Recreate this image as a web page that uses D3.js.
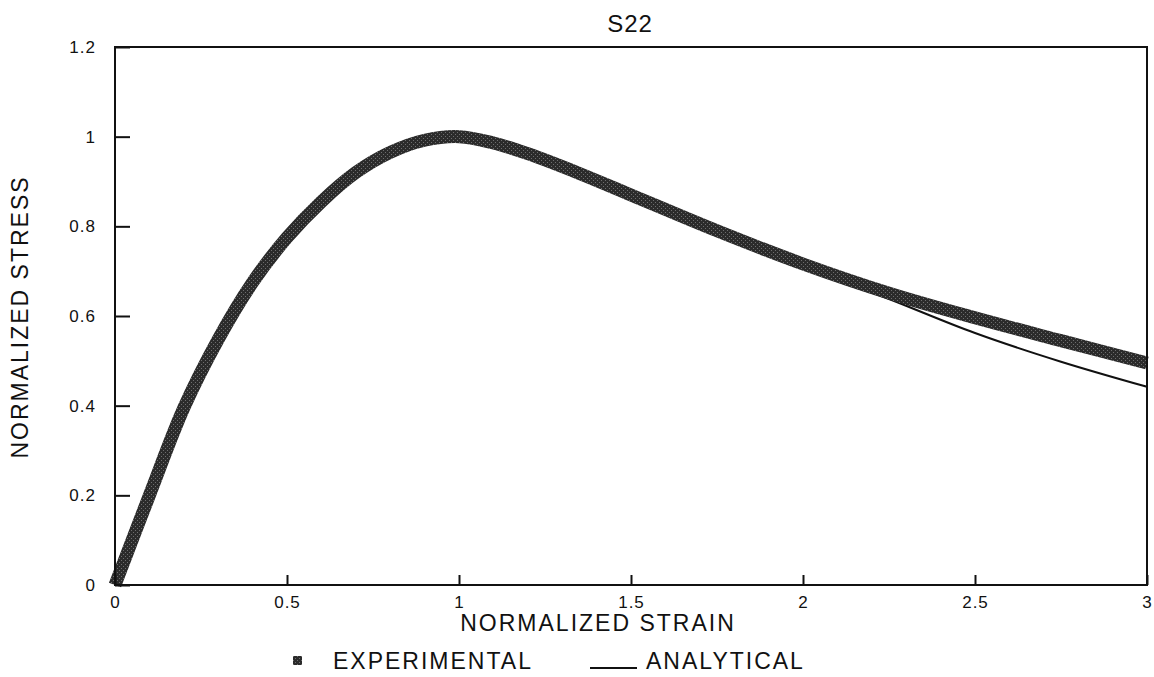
<!DOCTYPE html>
<html>
<head>
<meta charset="utf-8">
<script src="https://cdn.jsdelivr.net/npm/d3@7"></script>
<style>
  body { margin: 0; background: #fff; }
  text { font-family: "Liberation Sans", Arial, sans-serif; fill: #111; }
</style>
</head>
<body>
<div id="chart"></div>
<script>
// values
var strain_exp = [0, 0.1, 0.2, 0.3, 0.4, 0.5, 0.6, 0.7, 0.8, 0.9, 1.0, 1.1, 1.2, 1.35, 1.5, 1.75, 2.0, 2.25, 2.5, 2.75, 3.0];
var stress_exp = [0, 0.2, 0.395, 0.548, 0.675, 0.775, 0.855, 0.92, 0.965, 0.992, 1.0, 0.986, 0.962, 0.918, 0.87, 0.79, 0.716, 0.651, 0.596, 0.545, 0.495];

var strain_ana = [0, 0.1, 0.2, 0.3, 0.4, 0.5, 0.6, 0.7, 0.8, 0.9, 1.0, 1.1, 1.2, 1.35, 1.5, 1.75, 2.0, 2.25, 2.5, 2.75, 3.0];
var stress_ana = [0, 0.2, 0.395, 0.548, 0.675, 0.775, 0.855, 0.92, 0.965, 0.992, 1.0, 0.986, 0.962, 0.916, 0.867, 0.786, 0.711, 0.638, 0.562, 0.498, 0.442];

var x_ticks = [0, 0.5, 1, 1.5, 2, 2.5, 3];
var y_ticks = [0, 0.2, 0.4, 0.6, 0.8, 1, 1.2];

var title = "S22";
var x_label = "NORMALIZED STRAIN";
var y_label = "NORMALIZED STRESS";
var legend_labels = ["EXPERIMENTAL", "ANALYTICAL"];

var width = 1154;
var height = 677;
var plot_left = 115, plot_right = 1147, plot_top = 47, plot_bottom = 585;

var svgContainer = d3.select("#chart")
                     .append("svg")
                     .attr("width", width)
                     .attr("height", height);

// speckled fill for the thick experimental band
var defs = svgContainer.append("defs");
var pat = defs.append("pattern")
              .attr("id", "speckle")
              .attr("width", 4)
              .attr("height", 4)
              .attr("patternUnits", "userSpaceOnUse");
pat.append("rect").attr("width", 4).attr("height", 4).attr("fill", "#2b2b2b");
pat.append("rect").attr("x", 1).attr("y", 0).attr("width", 1).attr("height", 1).attr("fill", "#6e6e6e");
pat.append("rect").attr("x", 3).attr("y", 2).attr("width", 1).attr("height", 1).attr("fill", "#6e6e6e");

var linearScaleX = d3.scaleLinear().domain([0, 3]).range([plot_left, plot_right]);
var linearScaleY = d3.scaleLinear().domain([0, 1.2]).range([plot_bottom, plot_top]);

var exp_data = strain_exp.map(function(d, i) { return {x: d, y: stress_exp[i]}; });
var ana_data = strain_ana.map(function(d, i) { return {x: d, y: stress_ana[i]}; });

var line = d3.line()
             .x(function(d) { return linearScaleX(d.x); })
             .y(function(d) { return linearScaleY(d.y); })
             .curve(d3.curveCatmullRom.alpha(0.5));

// analytical line goes under the band
svgContainer.append("path")
            .datum(ana_data)
            .attr("d", line)
            .attr("fill", "none")
            .attr("stroke", "#111")
            .attr("stroke-width", 2);

svgContainer.append("path")
            .datum(exp_data)
            .attr("d", line)
            .attr("fill", "none")
            .attr("stroke", "url(#speckle)")
            .attr("stroke-width", 13);

// axes, ticks pointing inward
var x_axis = d3.axisBottom(linearScaleX)
               .tickValues(x_ticks)
               .tickSizeInner(-10)
               .tickSizeOuter(0)
               .tickPadding(11)
               .tickFormat(d3.format(""));
var y_axis = d3.axisLeft(linearScaleY)
               .tickValues(y_ticks)
               .tickSizeInner(-15)
               .tickSizeOuter(0)
               .tickPadding(19)
               .tickFormat(d3.format(""));

var gx = svgContainer.append("g")
                     .attr("transform", "translate(0," + plot_bottom + ")")
                     .call(x_axis);
var gy = svgContainer.append("g")
                     .attr("transform", "translate(" + plot_left + ",0)")
                     .call(y_axis);

[gx, gy].forEach(function(g) {
  g.attr("font-size", 17).attr("font-family", "Liberation Sans, Arial, sans-serif");
  g.select(".domain").remove();
  g.selectAll(".tick line").attr("stroke", "#111").attr("stroke-width", 2);
  g.selectAll(".tick text").attr("fill", "#111").attr("letter-spacing", 1);
});

svgContainer.append("rect")
            .attr("x", plot_left)
            .attr("y", plot_top)
            .attr("width", plot_right - plot_left)
            .attr("height", plot_bottom - plot_top)
            .attr("fill", "none")
            .attr("stroke", "#111")
            .attr("stroke-width", 2);

// titles
svgContainer.append("text")
            .text(title)
            .attr("x", 630)
            .attr("y", 32)
            .attr("text-anchor", "middle")
            .attr("font-size", 24)
            .attr("letter-spacing", 1);

svgContainer.append("text")
            .text(x_label)
            .attr("x", 598)
            .attr("y", 631)
            .attr("text-anchor", "middle")
            .attr("font-size", 23)
            .attr("letter-spacing", 2);

svgContainer.append("text")
            .text(y_label)
            .attr("transform", "translate(28,317) rotate(-90)")
            .attr("text-anchor", "middle")
            .attr("font-size", 23)
            .attr("letter-spacing", 2);

// legend
var legend = svgContainer.append("g").attr("class", "legend");
legend.append("rect")
      .attr("x", 293)
      .attr("y", 656)
      .attr("width", 9)
      .attr("height", 9)
      .attr("fill", "url(#speckle)");
legend.append("text")
      .text(legend_labels[0])
      .attr("x", 333)
      .attr("y", 669)
      .attr("font-size", 23)
      .attr("letter-spacing", 2);
legend.append("line")
      .attr("x1", 590)
      .attr("x2", 637)
      .attr("y1", 668)
      .attr("y2", 668)
      .attr("stroke", "#111")
      .attr("stroke-width", 2);
legend.append("text")
      .text(legend_labels[1])
      .attr("x", 646)
      .attr("y", 669)
      .attr("font-size", 23)
      .attr("letter-spacing", 2);
</script>
</body>
</html>
